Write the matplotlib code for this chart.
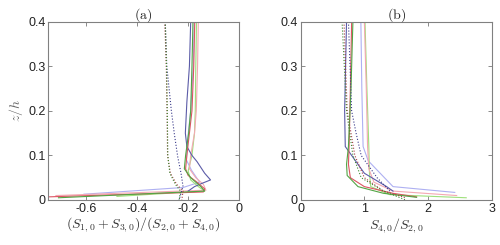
import numpy as np
import matplotlib
matplotlib.use("Agg")
import matplotlib.pyplot as plt

plt.rcParams['font.family'] = ['Liberation Sans', 'DejaVu Sans']
plt.rcParams['mathtext.fontset'] = 'cm'

# 颜色
c_navy = '#5c5ca8'
c_lav = '#aeb0f2'
c_red = '#dc5462'
c_pink = '#f4a8b2'
c_dgreen = '#52a544'
c_lgreen = '#9fe07c'
c_navy_dot = '#3a3a8a'
c_red_dot = '#a83a44'
c_green_dot = '#3e8a32'

# ---- (a) 数据 ----
a_navy_x = [-0.19, -0.195, -0.205, -0.211, -0.205, -0.185, -0.165, -0.135, -0.112, -0.147, -0.175, -0.2]
a_navy_z = [0.4, 0.3, 0.22, 0.15, 0.12, 0.1, 0.086, 0.06, 0.045, 0.037, 0.03, 0.02]
a_lav_x = [-0.176, -0.18, -0.19, -0.203, -0.207, -0.187, -0.155, -0.22, -0.61]
a_lav_z = [0.4, 0.3, 0.2, 0.13, 0.09, 0.067, 0.04, 0.028, 0.013]
a_red_x = [-0.174, -0.178, -0.185, -0.195, -0.205, -0.21, -0.2, -0.165, -0.135, -0.14, -0.75]
a_red_z = [0.4, 0.3, 0.2, 0.15, 0.1, 0.07, 0.055, 0.04, 0.025, 0.018, 0.007]
a_pink_x = [-0.16, -0.163, -0.168, -0.175, -0.19, -0.195, -0.17, -0.14, -0.13, -0.72]
a_pink_z = [0.4, 0.3, 0.2, 0.15, 0.1, 0.07, 0.05, 0.035, 0.022, 0.01]
a_dgreen_x = [-0.181, -0.185, -0.19, -0.198, -0.21, -0.215, -0.19, -0.15, -0.135, -0.71]
a_dgreen_z = [0.4, 0.3, 0.2, 0.15, 0.1, 0.07, 0.05, 0.03, 0.02, 0.005]
a_lgreen_x = [-0.167, -0.17, -0.172, -0.175, -0.185, -0.2, -0.19, -0.16, -0.135, -0.48]
a_lgreen_z = [0.4, 0.3, 0.2, 0.15, 0.1, 0.065, 0.045, 0.03, 0.02, 0.008]
a_navy_dot_x = [-0.29, -0.284, -0.266, -0.254, -0.241, -0.228, -0.22, -0.236]
a_navy_dot_z = [0.4, 0.3, 0.2, 0.147, 0.097, 0.06, 0.03, 0.0]
a_red_dot_x = [-0.292, -0.286, -0.283, -0.281, -0.27, -0.245, -0.22, -0.225]
a_red_dot_z = [0.4, 0.3, 0.2, 0.1, 0.06, 0.035, 0.02, 0.0]
a_green_dot_x = [-0.29, -0.285, -0.282, -0.28, -0.272, -0.25, -0.23, -0.235]
a_green_dot_z = [0.4, 0.3, 0.2, 0.1, 0.06, 0.035, 0.02, 0.0]

# ---- (b) 数据 ----
b_lav_x = [0.945, 0.96, 0.98, 1.06, 1.45, 2.42]
b_lav_z = [0.4, 0.25, 0.12, 0.088, 0.03, 0.017]
b_lgreen_x = [1.01, 1.04, 1.07, 1.08, 1.1, 1.4, 2.6]
b_lgreen_z = [0.4, 0.25, 0.12, 0.06, 0.03, 0.012, 0.005]
b_pink_x = [1.0, 1.03, 1.05, 1.07, 1.15, 1.45, 2.45]
b_pink_z = [0.4, 0.25, 0.12, 0.07, 0.04, 0.02, 0.01]
b_red_x = [0.8, 0.78, 0.76, 0.75, 0.78, 1.0, 1.45, 1.82]
b_red_z = [0.4, 0.25, 0.12, 0.08, 0.05, 0.03, 0.015, 0.007]
b_dgreen_x = [0.82, 0.79, 0.75, 0.72, 0.73, 0.9, 1.3, 1.82]
b_dgreen_z = [0.4, 0.25, 0.12, 0.08, 0.055, 0.03, 0.015, 0.006]
b_navy_x = [0.72, 0.69, 0.7, 0.8, 1.0, 1.35, 1.45]
b_navy_z = [0.4, 0.2, 0.12, 0.1, 0.06, 0.03, 0.02]
b_navy_dot_x = [0.75, 0.8, 0.87, 0.95, 1.2, 1.4]
b_navy_dot_z = [0.4, 0.2, 0.15, 0.1, 0.05, 0.02]
b_red_dot_x = [0.68, 0.73, 0.85, 1.0, 1.3, 1.65]
b_red_dot_z = [0.4, 0.2, 0.1, 0.05, 0.02, 0.005]
b_green_dot_x = [0.65, 0.72, 0.82, 0.95, 1.3, 1.65]
b_green_dot_z = [0.4, 0.2, 0.1, 0.05, 0.02, 0.0]

fig = plt.figure(figsize=(5, 2.45), dpi=100)
ax1 = fig.add_axes([0.0966, 0.1837, 0.3814, 0.7278])
ax2 = fig.add_axes([0.6014, 0.1837, 0.3820, 0.7278])

lw = 0.8
# (a)
ax1.plot(a_lav_x, a_lav_z, color=c_lav, lw=lw)
ax1.plot(a_lgreen_x, a_lgreen_z, color=c_lgreen, lw=lw)
ax1.plot(a_pink_x, a_pink_z, color=c_pink, lw=lw)
ax1.plot(a_navy_x, a_navy_z, color=c_navy, lw=lw)
ax1.plot(a_red_x, a_red_z, color=c_red, lw=lw)
ax1.plot(a_dgreen_x, a_dgreen_z, color=c_dgreen, lw=lw)
ax1.plot(a_navy_dot_x, a_navy_dot_z, color=c_navy_dot, lw=lw, linestyle=':')
ax1.plot(a_red_dot_x, a_red_dot_z, color=c_red_dot, lw=lw, linestyle=':')
ax1.plot(a_green_dot_x, a_green_dot_z, color=c_green_dot, lw=lw, linestyle=':')

# (b)
ax2.plot(b_lav_x, b_lav_z, color=c_lav, lw=lw)
ax2.plot(b_lgreen_x, b_lgreen_z, color=c_lgreen, lw=lw)
ax2.plot(b_pink_x, b_pink_z, color=c_pink, lw=lw)
ax2.plot(b_navy_x, b_navy_z, color=c_navy, lw=lw)
ax2.plot(b_red_x, b_red_z, color=c_red, lw=lw)
ax2.plot(b_dgreen_x, b_dgreen_z, color=c_dgreen, lw=lw)
ax2.plot(b_navy_dot_x, b_navy_dot_z, color=c_navy_dot, lw=lw, linestyle=':')
ax2.plot(b_red_dot_x, b_red_dot_z, color=c_red_dot, lw=lw, linestyle=':')
ax2.plot(b_green_dot_x, b_green_dot_z, color=c_green_dot, lw=lw, linestyle=':')

# 坐标轴
ax1.set_xlim((-0.75, 0))
ax1.set_xticks([-0.6, -0.4, -0.2, 0])
ax1.set_xticklabels(['-0.6', '-0.4', '-0.2', '0'])
ax2.set_xlim((0, 3))
ax2.set_xticks([0, 1, 2, 3])
for ax in (ax1, ax2):
    ax.set_ylim((0, 0.4))
    ax.set_yticks([0, 0.1, 0.2, 0.3, 0.4])
    ax.set_yticklabels(['0', '0.1', '0.2', '0.3', '0.4'])
    ax.tick_params(direction='in', length=3, width=0.6, colors='#777777',
                   labelcolor='#222222', labelsize=9, top=True, right=True, pad=2)
    for s in ax.spines.values():
        s.set_color('#808080')
        s.set_linewidth(0.8)

# 标题和标签
ax1.set_title(r'$\mathrm{(a)}$', fontsize=10, pad=2, color='#222222')
ax2.set_title(r'$\mathrm{(b)}$', fontsize=10, pad=2, color='#222222')
ax1.set_xlabel(r'$(S_{1,0}+S_{3,0})/(S_{2,0}+S_{4,0})$', fontsize=10, color='#333333', labelpad=0)
ax2.set_xlabel(r'$S_{4,0}/S_{2,0}$', fontsize=10, color='#333333', labelpad=1)
ax1.set_ylabel(r'$z/h$', fontsize=10, color='#666666', labelpad=2)

fig.savefig('out.png', dpi=100)
